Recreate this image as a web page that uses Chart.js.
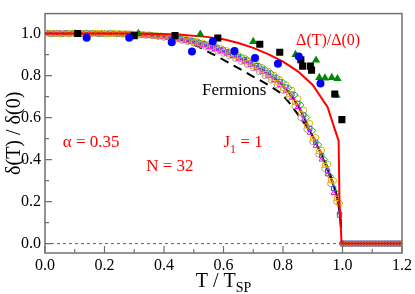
<!DOCTYPE html>
<html>
<head>
<meta charset="utf-8">
<script src="https://cdn.jsdelivr.net/npm/chart.js@4"></script>
<style>
  html, body { margin: 0; padding: 0; background: #fff; }
  canvas { display: block; }
</style>
</head>
<body>
<canvas id="gapChart" width="415" height="294"></canvas>
<script>
// axis ticks
const xTicks = [0.0, 0.2, 0.4, 0.6, 0.8, 1.0, 1.2]
const yTicks = [0.0, 0.2, 0.4, 0.6, 0.8, 1.0]
const xMinor = [0.1, 0.3, 0.5, 0.7, 0.9, 1.1]
const yMinor = [0.1, 0.3, 0.5, 0.7, 0.9]

// scaled data, even / odd temperature grids
const tEven = [0.00,0.02,0.04,0.06,0.08,0.10,0.12,0.14,0.16,0.18,0.20,0.22,0.24,0.26,0.28,0.30,0.32,0.34,0.36,0.38,
               0.40,0.42,0.44,0.46,0.48,0.50,0.52,0.54,0.56,0.58,0.60,0.62,0.64,0.66,0.68,0.70,0.72,0.74,0.76,0.78,
               0.80,0.82,0.84,0.86,0.88,0.90,0.92,0.94,0.96,0.98,1.00]
const tOdd  = [0.01,0.03,0.05,0.07,0.09,0.11,0.13,0.15,0.17,0.19,0.21,0.23,0.25,0.27,0.29,0.31,0.33,0.35,0.37,0.39,
               0.41,0.43,0.45,0.47,0.49,0.51,0.53,0.55,0.57,0.59,0.61,0.63,0.65,0.67,0.69,0.71,0.73,0.75,0.77,0.79,
               0.81,0.83,0.85,0.87,0.89,0.91,0.93,0.95,0.97,0.99]

const orangeSet = [1.000,1.002,0.999,1.001,1.000,0.998,1.001,1.000,0.999,1.002,1.000,0.999,1.000,0.998,0.998,0.997,0.995,0.993,0.990,0.988,
                   0.985,0.981,0.976,0.971,0.965,0.959,0.951,0.943,0.934,0.924,0.914,0.902,0.890,0.876,0.861,0.845,0.828,0.809,0.789,0.766,
                   0.740,0.710,0.672,0.620,0.560,0.498,0.438,0.372,0.300,0.215,0.000]
const greenSet  = [0.999,1.001,1.000,0.998,1.001,1.000,0.999,1.001,1.000,0.998,1.001,0.999,0.999,0.999,0.997,0.997,0.996,0.994,0.992,0.990,
                   0.988,0.984,0.980,0.975,0.970,0.964,0.957,0.950,0.942,0.933,0.924,0.913,0.902,0.889,0.876,0.861,0.846,0.829,0.811,0.790,
                   0.767,0.740,0.708,0.660,0.600,0.538,0.470,0.400,0.320,0.240,0.000]
const graySet   = [1.003,0.998,1.002,1.000,0.999,1.003,0.998,1.002,1.001,0.999,0.998,1.002,0.998,0.997,0.999,0.995,0.993,0.991,0.989,0.986,
                   0.982,0.978,0.973,0.967,0.961,0.954,0.946,0.937,0.927,0.917,0.906,0.894,0.881,0.867,0.852,0.836,0.818,0.799,0.778,0.755,
                   0.729,0.698,0.655,0.600,0.545,0.485,0.425,0.358,0.285,0.200,0.000]
const magentaSet = [0.998,1.000,1.001,0.999,0.998,1.000,1.001,0.999,0.998,1.000,0.999,0.998,0.997,0.997,0.996,0.994,0.992,0.990,0.987,0.984,
                    0.981,0.977,0.972,0.966,0.960,0.953,0.945,0.936,0.926,0.916,0.905,0.893,0.880,0.866,0.851,0.835,0.818,0.799,0.778,0.755,
                    0.728,0.695,0.650,0.590,0.528,0.465,0.400,0.330,0.240,0.150]
const blueSet   = [1.001,0.999,1.000,1.002,1.000,0.999,1.000,1.001,1.000,0.999,1.000,1.000,0.999,0.998,0.997,0.996,0.994,0.992,0.990,0.988,
                   0.985,0.981,0.977,0.971,0.965,0.959,0.951,0.943,0.934,0.924,0.913,0.902,0.889,0.876,0.862,0.847,0.830,0.812,0.792,0.770,
                   0.745,0.712,0.668,0.612,0.548,0.482,0.418,0.345,0.262,0.135]
const yellowSet = [1.002,1.001,0.998,1.000,1.002,1.001,0.999,0.998,1.002,1.001,0.998,1.001,1.000,0.999,0.998,0.998,0.996,0.994,0.991,0.989,
                   0.986,0.983,0.979,0.974,0.968,0.962,0.955,0.947,0.939,0.929,0.919,0.908,0.896,0.883,0.869,0.854,0.838,0.820,0.801,0.780,
                   0.757,0.730,0.690,0.635,0.572,0.505,0.445,0.378,0.300,0.190]

// normal phase, T > T_SP
const tNormal = [1.00,1.01,1.02,1.03,1.04,1.05,1.06,1.07,1.08,1.09,1.10,1.11,1.12,1.13,1.14,1.15,1.16,1.17,1.18,1.19,1.20]
const normalSet = [0,0,0,0,0,0,0,0,0,0,0,0,0,0,0,0,0,0,0,0,0]

// black solid line through the scaled data
const tScaled = [0.0, 0.1, 0.2, 0.3, 0.4, 0.45, 0.5, 0.55, 0.6, 0.65, 0.7, 0.75, 0.8, 0.85, 0.9, 0.93, 0.95, 0.97, 0.98, 0.99, 0.995]
const scaledLine = [1.0, 1.0, 0.999, 0.996, 0.986, 0.976, 0.961, 0.942, 0.918, 0.889, 0.853, 0.809, 0.752, 0.658, 0.510, 0.420, 0.350, 0.275, 0.230, 0.150, 0.075]

// fermions (dashed)
const tFermions = [0.0, 0.1, 0.2, 0.3, 0.35, 0.4, 0.45, 0.5, 0.55, 0.6, 0.65, 0.7, 0.75, 0.8, 0.85, 0.9, 0.93, 0.95, 0.97, 0.99, 0.995]
const fermions = [1.0, 0.999, 0.997, 0.993, 0.988, 0.981, 0.972, 0.948, 0.912, 0.875, 0.835, 0.795, 0.755, 0.705, 0.615, 0.510, 0.425, 0.360, 0.280, 0.160, 0.090]

// Delta(T)/Delta(0) red line
const tDelta = [0.0, 0.3, 0.45, 0.55, 0.6, 0.65, 0.7, 0.75, 0.8, 0.85, 0.9, 0.95, 0.975, 0.987, 0.99, 0.997, 1.2]
const deltaRatio = [1.0, 1.0, 0.995, 0.983, 0.973, 0.955, 0.932, 0.902, 0.866, 0.820, 0.755, 0.649, 0.540, 0.490, 0.190, 0.0, 0.0]

// Delta(T)/Delta(0) points
const tSquares = [0.11, 0.30, 0.437, 0.581, 0.722, 0.789, 0.860, 0.866, 0.892, 0.896, 0.974, 0.998]
const squares = [1.0, 0.99, 0.99, 0.979, 0.949, 0.911, 0.875, 0.845, 0.845, 0.826, 0.712, 0.59]
const tCircles = [0.14, 0.283, 0.426, 0.494, 0.564, 0.637, 0.706, 0.783, 0.853, 0.926]
const circles = [0.98, 0.98, 0.959, 0.914, 0.962, 0.917, 0.884, 0.856, 0.891, 0.762]
const tTriangles = [0.314, 0.522, 0.70, 0.842, 0.911, 0.922, 0.941, 0.964, 0.983, 0.98]
const triangles = [1.0, 0.997, 0.962, 0.90, 0.873, 0.79, 0.788, 0.79, 0.785, 0.706]

const zeroLineX = [0.0, 1.2]
const zeroLineY = [0.0, 0.0]

function pts(xs, ys) {
    return xs.map((x, i) => ({ x: x, y: ys[i] }))
}

const serif = "'Liberation Serif', 'Times New Roman', Times, 'DejaVu Serif', serif"
Chart.defaults.font.family = serif
Chart.defaults.color = '#000'

const figureDecor = {
    id: 'figureDecor',
    beforeDatasetsDraw(chart) {
        const ctx = chart.ctx
        const a = chart.chartArea
        const xs = chart.scales.x
        const ys = chart.scales.y
        ctx.save()
        ctx.strokeStyle = '#707070'
        ctx.lineWidth = 1.5
        ctx.strokeRect(a.left, a.top, a.right - a.left, a.bottom - a.top)
        // inward ticks
        ctx.lineWidth = 1.2
        ctx.beginPath()
        xTicks.forEach(v => { const p = xs.getPixelForValue(v); ctx.moveTo(p, a.bottom); ctx.lineTo(p, a.bottom - 7) })
        xMinor.forEach(v => { const p = xs.getPixelForValue(v); ctx.moveTo(p, a.bottom); ctx.lineTo(p, a.bottom - 4) })
        yTicks.forEach(v => { const p = ys.getPixelForValue(v); ctx.moveTo(a.left, p); ctx.lineTo(a.left + 7, p) })
        yMinor.forEach(v => { const p = ys.getPixelForValue(v); ctx.moveTo(a.left, p); ctx.lineTo(a.left + 4, p) })
        ctx.stroke()
        ctx.restore()
    },
    afterDraw(chart) {
        const ctx = chart.ctx
        const a = chart.chartArea
        const xs = chart.scales.x
        const ys = chart.scales.y
        const X = v => xs.getPixelForValue(v)
        const Y = v => ys.getPixelForValue(v)
        ctx.save()
        ctx.textBaseline = 'alphabetic'
        ctx.textAlign = 'left'

        ctx.fillStyle = '#ff0000'
        ctx.font = '17px ' + serif
        ctx.fillText('\u03b1 = 0.35', X(0.06), Y(0.459))
        ctx.fillText('N = 32', X(0.34), Y(0.345))
        ctx.font = '16px ' + serif
        ctx.fillText('\u0394(T)/\u0394(0)', X(0.844), Y(0.944))
        // J_1 = 1
        ctx.font = '17px ' + serif
        let jx = X(0.6)
        ctx.fillText('J', jx, Y(0.459))
        jx += ctx.measureText('J').width
        ctx.font = '12px ' + serif
        ctx.fillText('1', jx, Y(0.459) + 6)
        jx += ctx.measureText('1').width
        ctx.font = '17px ' + serif
        ctx.fillText(' = 1', jx, Y(0.459))

        ctx.fillStyle = '#000'
        ctx.font = '17px ' + serif
        ctx.fillText('Fermions', X(0.528), Y(0.709))

        // x title: T / T_SP
        ctx.font = '20px ' + serif
        const main = 'T / T'
        const wMain = ctx.measureText(main).width
        ctx.font = '14px ' + serif
        const wSub = ctx.measureText('SP').width
        let tx = (a.left + a.right) / 2 - (wMain + wSub) / 2
        ctx.font = '20px ' + serif
        ctx.fillText(main, tx, 287)
        ctx.font = '14px ' + serif
        ctx.fillText('SP', tx + wMain, 292)

        // y title
        ctx.translate(20, (a.top + a.bottom) / 2)
        ctx.rotate(-Math.PI / 2)
        ctx.textAlign = 'center'
        ctx.font = '20px ' + serif
        ctx.fillText('\u03b4(T) / \u03b4(0)', 0, 0)
        ctx.restore()
    }
}

const symbolSet = (label, data, color, style) => ({
    label: label,
    data: data,
    showLine: false,
    pointStyle: style,
    pointRadius: 3,
    pointBorderWidth: 1,
    pointBackgroundColor: 'rgba(0,0,0,0)',
    pointBorderColor: color,
    borderColor: color
})

const datasets = [
    {
        label: 'circles', data: pts(tCircles, circles), showLine: false,
        pointStyle: 'circle', pointRadius: 4, pointBackgroundColor: '#0000ff', pointBorderColor: '#0000ff', pointBorderWidth: 0
    },
    {
        label: 'squares', data: pts(tSquares, squares), showLine: false,
        pointStyle: 'rect', pointRadius: 5, pointBackgroundColor: '#000', pointBorderColor: '#000', pointBorderWidth: 0
    },
    {
        label: 'triangles', data: pts(tTriangles, triangles), showLine: false,
        pointStyle: 'triangle', pointRadius: 4.8, pointBackgroundColor: '#008c00', pointBorderColor: '#008c00', pointBorderWidth: 0
    },
    {
        label: 'Delta', data: pts(tDelta, deltaRatio), showLine: true, pointRadius: 0,
        borderColor: '#ff0000', borderWidth: 2, tension: 0
    },
    {
        label: 'normal', data: pts(tNormal, normalSet), showLine: false,
        pointStyle: 'circle', pointRadius: 2.8, pointBorderWidth: 1,
        pointBackgroundColor: '#d9a040', pointBorderColor: '#4a5aa0'
    },
    symbolSet('orange', pts(tEven, orangeSet), '#ffa500', 'rect'),
    symbolSet('magenta', pts(tOdd, magentaSet), '#ff00ff', 'triangle'),
    symbolSet('green', pts(tEven, greenSet), '#00c000', 'rectRot'),
    symbolSet('blue', pts(tOdd, blueSet), '#3050ff', 'rect'),
    symbolSet('yellow', pts(tOdd, yellowSet), '#e0b000', 'circle'),
    symbolSet('gray', pts(tEven, graySet), '#a0a0a0', 'circle'),
    {
        label: 'scaled', data: pts(tScaled, scaledLine), showLine: true, pointRadius: 0,
        borderColor: '#000', borderWidth: 2, cubicInterpolationMode: 'monotone'
    },
    {
        label: 'Fermions', data: pts(tFermions, fermions), showLine: true, pointRadius: 0,
        borderColor: '#000', borderWidth: 2, borderDash: [9, 6], cubicInterpolationMode: 'monotone'
    },
    {
        label: 'zero', data: pts(zeroLineX, zeroLineY), showLine: true, pointRadius: 0,
        borderColor: '#666', borderWidth: 1, borderDash: [3, 3]
    }
]

const config = {
    type: 'scatter',
    data: { datasets: datasets },
    options: {
        responsive: false,
        animation: false,
        devicePixelRatio: 1,
        layout: { padding: { top: 2, right: 10, left: 0, bottom: 0 } },
        plugins: {
            legend: { display: false },
            tooltip: { enabled: false }
        },
        scales: {
            x: {
                type: 'linear',
                min: 0,
                max: 1.2,
                afterBuildTicks: scale => { scale.ticks = xTicks.map(v => ({ value: v })) },
                afterFit: scale => { scale.height = 41 },
                ticks: {
                    font: { size: 16, family: serif },
                    color: '#000',
                    padding: 3,
                    maxRotation: 0,
                    callback: v => v.toFixed(1)
                },
                grid: { display: false, drawTicks: false },
                border: { display: false }
            },
            y: {
                type: 'linear',
                min: -0.045,
                max: 1.095,
                afterBuildTicks: scale => { scale.ticks = yTicks.map(v => ({ value: v })) },
                afterFit: scale => { scale.width = 45 },
                ticks: {
                    font: { size: 16, family: serif },
                    color: '#000',
                    padding: 4,
                    callback: v => v.toFixed(1)
                },
                grid: { display: false, drawTicks: false },
                border: { display: false }
            }
        }
    },
    plugins: [figureDecor]
}

const gapChart = new Chart(document.getElementById('gapChart'), config)
</script>
</body>
</html>
